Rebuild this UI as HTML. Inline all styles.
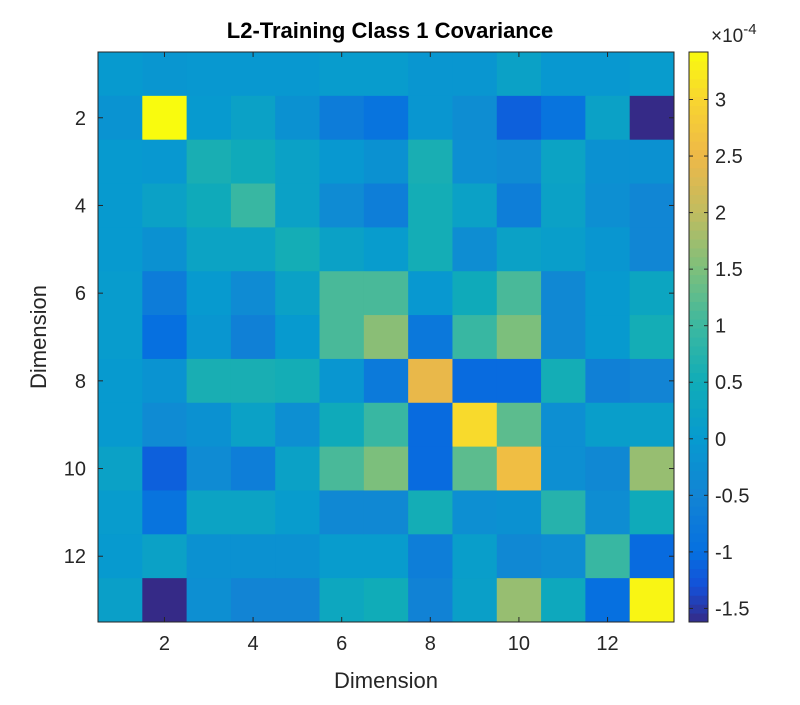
<!DOCTYPE html>
<html><head><meta charset="utf-8">
<style>
body{margin:0;background:#fff;width:800px;height:700px;overflow:hidden;font-family:"Liberation Sans",sans-serif;}
svg text{font-family:"Liberation Sans",sans-serif;fill:#262626;}
</style></head>
<body>
<svg id="chart" width="800" height="700" xmlns="http://www.w3.org/2000/svg">
<text x="390" y="38" font-size="22" font-weight="bold" text-anchor="middle" style="fill:#000">L2-Training Class 1 Covariance</text>
<text x="386" y="688" font-size="22" text-anchor="middle">Dimension</text>
<text x="0" y="0" font-size="22" text-anchor="middle" transform="translate(46,337) rotate(-90)">Dimension</text>
<g id="cells"></g>
<g id="axes"></g>
<g id="cbar"></g>
<text x="711" y="42" font-size="19">×10<tspan dy="-8" font-size="15">-4</tspan></text>
</svg>
<script>
const rowLabels=[1,2,3,4,5,6,7,8,9,10,11,12,13];
const colLabels=[1,2,3,4,5,6,7,8,9,10,11,12,13];
const axisTicks=[2,4,6,8,10,12];
const cbarTicks=[-1.5,-1,-0.5,0,0.5,1,1.5,2,2.5,3];
const cbarTickLabels=["-1.5","-1","-0.5","0","0.5","1","1.5","2","2.5","3"];
const row1=[0,-0.1,-0.05,-0.05,-0.05,0.05,0.05,-0.1,-0.1,0.2,-0.05,-0.05,0.05];
const row2=[-0.15,3.42,0,0.2,-0.2,-0.7,-0.9,-0.1,-0.3,-1.15,-0.9,0.2,-1.62];
const row3=[0,-0.05,0.6,0.45,0.2,-0.05,-0.2,0.6,-0.25,-0.35,0.25,-0.2,-0.2];
const row4=[0,0.2,0.45,0.95,0.2,-0.35,-0.65,0.55,0.2,-0.65,0.2,-0.25,-0.45];
const row5=[0,-0.2,0.25,0.25,0.55,0.2,0.05,0.55,-0.3,0.2,0.1,-0.1,-0.45];
const row6=[0.05,-0.7,0,-0.35,0.2,1.1,1.1,-0.05,0.45,1.1,-0.4,0,0.3];
const row7=[0.05,-1.0,-0.1,-0.6,0,1.1,1.6,-0.8,0.95,1.5,-0.4,0,0.55];
const row8=[0,-0.15,0.6,0.6,0.55,-0.1,-0.75,2.45,-1.05,-1.05,0.55,-0.6,-0.5];
const row9=[0,-0.35,-0.2,0.2,-0.25,0.45,0.95,-1.05,3.05,1.25,-0.25,0.1,0.15];
const row10=[0.2,-1.15,-0.35,-0.65,0.2,1.1,1.5,-1.05,1.25,2.6,-0.25,-0.4,1.7];
const row11=[0.05,-0.9,0.25,0.25,0.05,-0.4,-0.4,0.55,-0.25,-0.2,0.75,-0.3,0.45];
const row12=[0,0.2,-0.2,-0.2,-0.2,0.05,0.05,-0.65,0.1,-0.4,-0.3,0.95,-1.05];
const row13=[0.15,-1.62,-0.25,-0.5,-0.5,0.35,0.5,-0.55,0.15,1.7,0.4,-1.0,3.35];
const values=[row1,row2,row3,row4,row5,row6,row7,row8,row9,row10,row11,row12,row13];
const cmin=-1.62, cmax=3.42;

const NS="http://www.w3.org/2000/svg";
const PL=98,PR=674,PT=52,PB=622;
const n=colLabels.length;
function xScale(i){return PL+(i-0.5)*(PR-PL)/n;}
function yScale(i){return PT+(i-0.5)*(PB-PT)/n;}
const cw=(PR-PL)/n, ch=(PB-PT)/n;
const CB_L=689,CB_R=708;
function cbY(v){return PB-(v-cmin)/(cmax-cmin)*(PB-PT);}

const anchors=[[-1.62,[53,42,135]],[-1.3,[20,80,216]],[-1.0,[6,112,224]],[-0.5,[18,132,212]],[0,[7,154,207]],[0.5,[16,172,184]],[1.0,[60,184,160]],[1.5,[124,191,124]],[2.0,[192,188,96]],[2.5,[238,184,72]],[3.0,[248,213,48]],[3.42,[249,251,14]]];
function color(v){
  if(v<=anchors[0][0])return rgb(anchors[0][1]);
  for(let k=1;k<anchors.length;k++){
    if(v<=anchors[k][0]){const a=anchors[k-1],b=anchors[k];const t=(v-a[0])/(b[0]-a[0]);
      return rgb(a[1].map((c,j)=>c+(b[1][j]-c)*t));}
  }
  return rgb(anchors[anchors.length-1][1]);
}
function rgb(c){return "rgb("+c.map(x=>Math.round(x)).join(",")+")";}
function mk(tag,attrs,parent){const e=document.createElementNS(NS,tag);for(const k in attrs)e.setAttribute(k,attrs[k]);parent.appendChild(e);return e;}

const cells=document.getElementById('cells');
values.forEach((row,r)=>row.forEach((v,c)=>{
  const e=mk('rect',{x:xScale(colLabels[c])-cw/2,y:yScale(rowLabels[r])-ch/2,width:cw+0.5,height:ch+0.5,fill:color(v)},cells);
  
  
}));

const axes=document.getElementById('axes');
const frame=mk('rect',{x:PL,y:PT,width:PR-PL,height:PB-PT,fill:'none',stroke:'#262626','stroke-width':1},axes);


axisTicks.forEach(t=>{
  const x=xScale(t), y=yScale(t);
  mk('line',{x1:x,x2:x,y1:PB,y2:PB-5,stroke:'#262626'},axes);
  mk('line',{x1:x,x2:x,y1:PT,y2:PT+5,stroke:'#262626'},axes);
  mk('line',{x1:PL,x2:PL+5,y1:y,y2:y,stroke:'#262626'},axes);
  mk('line',{x1:PR,x2:PR-5,y1:y,y2:y,stroke:'#262626'},axes);
  const xl=mk('text',{x:x,y:PB+28,'font-size':20,'text-anchor':'middle'},axes);xl.textContent=t;
  
  
  const yl=mk('text',{x:PL-12,y:y+7,'font-size':20,'text-anchor':'end'},axes);yl.textContent=t;
  
  
});

const cbar=document.getElementById('cbar');
const steps=64;
for(let k=0;k<steps;k++){
  const v0=cmin+(cmax-cmin)*k/steps, v1=cmin+(cmax-cmin)*(k+1)/steps;
  const e=mk('rect',{x:CB_L,y:cbY(v1),width:CB_R-CB_L,height:cbY(v0)-cbY(v1)+0.5,fill:color((v0+v1)/2)},cbar);
  
  
}
mk('rect',{x:CB_L,y:PT,width:CB_R-CB_L,height:PB-PT,fill:'none',stroke:'#262626'},cbar);
cbarTicks.forEach((t,i)=>{
  const y=cbY(t);
  mk('line',{x1:CB_L,x2:CB_L+4,y1:y,y2:y,stroke:'#262626'},cbar);
  mk('line',{x1:CB_R,x2:CB_R-4,y1:y,y2:y,stroke:'#262626'},cbar);
  const l=mk('text',{x:CB_R+7,y:y+7,'font-size':20},cbar);l.textContent=cbarTickLabels[i];
  
  
});
</script>
</body></html>
